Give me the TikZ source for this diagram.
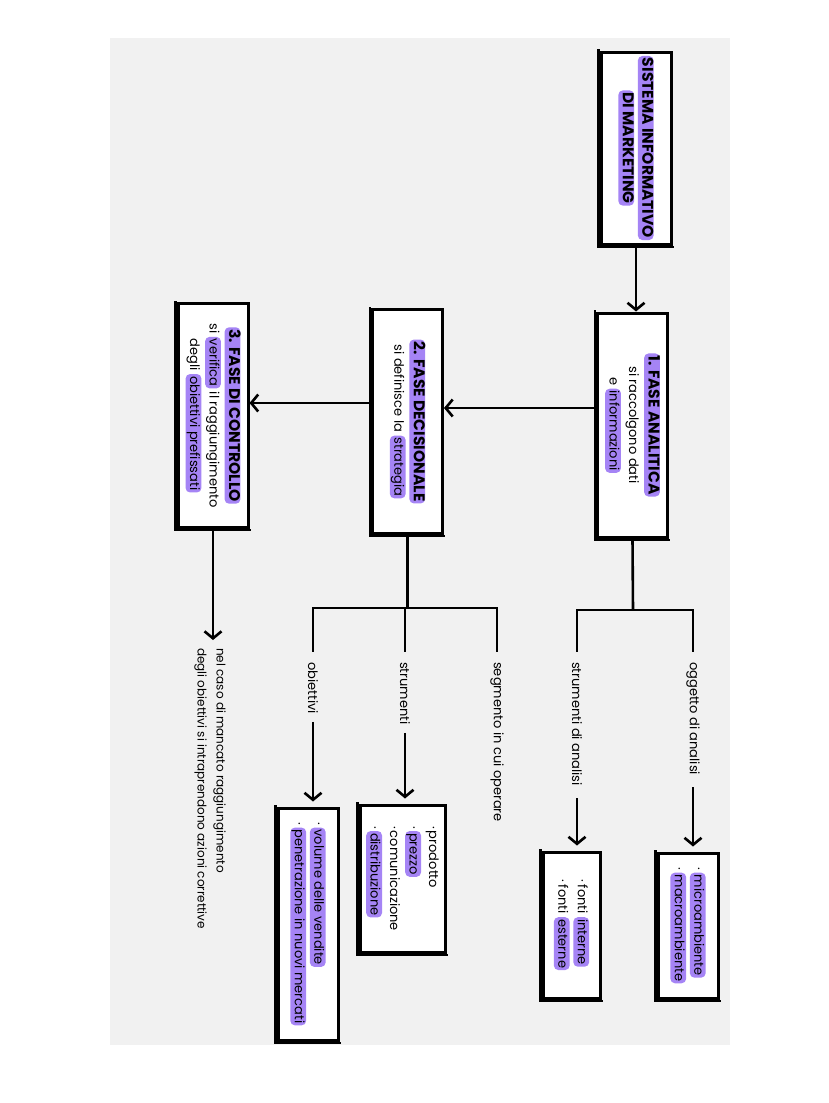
\documentclass[tikz,border=0pt]{standalone}
\usepackage{fontspec}
\setmainfont{Poppins}
\usetikzlibrary{arrows.meta, positioning}
\definecolor{hlpurple}{RGB}{165,132,245}
\definecolor{scan}{RGB}{241,241,241}
\newcommand{\hlt}[1]{\tikz[reset cm,baseline=(hl.base)]\node[draw=none,fill=hlpurple,rounded corners=4.5pt,inner xsep=2pt,inner ysep=1.6pt,outer sep=0pt,minimum width=0pt,minimum height=0pt,text height=0.75em,text depth=0.22em](hl){#1};}
\newcommand{\ttl}[1]{\hlt{\fontsize{15.5}{20}\selectfont\bfseries #1}}

\begin{document}
\begin{tikzpicture}[x=1pt,y=-1pt,font=\fontsize{13}{19.5}\selectfont]
\tikzset{
  rot/.style={rotate=-90},
  phasebox/.style={rot, draw, line width=3pt, fill=white, align=center, minimum width=224pt, minimum height=70pt, inner sep=2pt},
  listbox/.style={rot, draw, line width=3pt, fill=white, align=left, inner sep=3pt},
  lbl/.style={rot, inner sep=2pt, anchor=west, align=left},
  link/.style={line width=2.6pt},
  arr/.style={line width=2.6pt, -{Straight Barb[length=7pt,width=17pt]}},
  shadeline/.style={line width=2.4pt, line cap=rect},
}
\useasboundingbox (0,0) rectangle (828,1103);
\fill[scan] (110,38) rectangle (730,1045);

% phases
\node[phasebox, minimum width=192pt] (sim) at (636,148) {\ttl{SISTEMA INFORMATIVO}\\\ttl{DI MARKETING}};
\node[phasebox] (ana) at (632.5,425) {\ttl{1. FASE ANALITICA}\\si raccolgono dati\\e \hlt{informazioni}};
\node[phasebox] (dec) at (407.5,421.5) {\ttl{2. FASE DECISIONALE}\\si definisce la \hlt{strategia}};
\node[phasebox] (ctl) at (213,415.5) {\ttl{3. FASE DI CONTROLLO}\\si \hlt{verifica} il raggiungimento\\degli \hlt{obiettivi prefissati}};

% labels
\node[lbl] (lblOgg) at (693,660) {oggetto di analisi};
\node[lbl] (lblStrA) at (577,660) {strumenti di analisi};
\node[lbl] (lblSeg) at (497,660) {segmento in cui operare};
\node[lbl] (lblStrum) at (405,660) {strumenti};
\node[lbl] (lblObi) at (313,660) {obiettivi};
\node[lbl, font=\fontsize{12}{19}\selectfont] (lblNel) at (210,646) {nel caso di mancato raggiungimento\\degli obiettivi si intraprendono azioni correttive};

% lists
\node[listbox, minimum width=145pt, minimum height=60pt] (boxMicro) at (688,925.5) {·\,\hlt{microambiente}\\·\,\hlt{macroambiente}};
\node[listbox, minimum width=146pt, minimum height=57pt] (boxFonti) at (571.5,925) {·\,fonti \hlt{interne}\\·\,fonti \hlt{esterne}};
\node[listbox, minimum width=147pt, minimum height=85pt] (boxMix) at (402.5,878.5) {·\,prodotto\\·\,\hlt{prezzo}\\·\,comunicazione\\·\,\hlt{distribuzione}};
\node[listbox, minimum width=232pt, minimum height=60pt] (boxObi) at (308,924) {·\,\hlt{volume delle vendite}\\·\,\hlt{penetrazione in nuovi mercati}};

% heavier left and bottom edges
\foreach \b in {sim,ana,dec,ctl,boxMicro,boxFonti,boxMix,boxObi}
  \draw[shadeline] ([xshift=-1.2pt]\b.south west) -- ([xshift=-1.2pt,yshift=-1.2pt]\b.south east) -- ([yshift=-1.2pt]\b.north east);

% main flow
\coordinate (c12) at (0,408);
\coordinate (c23) at (0,403);
\draw[arr] (sim.east) -- (sim.east |- ana.west);
\draw[arr] (ana.south |- c12) -- (dec.north |- c12);
\draw[arr] (dec.south |- c23) -- (ctl.north |- c23);
\draw[arr, shorten >=6pt] (ctl.east) -- (ctl.east |- lblNel.west);

% forks
\coordinate (fork1) at (633,610);
\coordinate (fork2) at (407.5,608);
\draw[link] (ana.east) -- (fork1);
\draw[link, shorten >=8pt] (fork1) -| (lblOgg.west);
\draw[link, shorten >=8pt] (fork1) -| (lblStrA.west);
\draw[link] (dec.east) -- (fork2);
\draw[link, shorten >=8pt] (fork2) -| (lblSeg.west);
\draw[link, shorten >=8pt] (fork2) -| (lblStrum.west);
\draw[link, shorten >=8pt] (fork2) -| (lblObi.west);

% to lists
\draw[arr, shorten <=10pt, shorten >=5pt] (lblOgg.east) -- (lblOgg.east |- boxMicro.west);
\draw[arr, shorten <=10pt, shorten >=5pt] (lblStrA.east) -- (lblStrA.east |- boxFonti.west);
\draw[arr, shorten <=6pt, shorten >=5pt] (lblStrum.east) -- (lblStrum.east |- boxMix.west);
\draw[arr, shorten <=6pt, shorten >=5pt] (lblObi.east) -- (lblObi.east |- boxObi.west);
\end{tikzpicture}
\end{document}
